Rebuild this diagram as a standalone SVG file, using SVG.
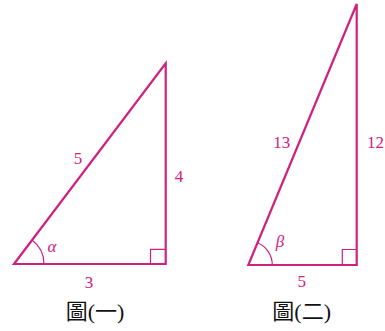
<svg xmlns="http://www.w3.org/2000/svg" width="385" height="331" viewBox="0 0 385 331">
<style>
.ln{fill:none;stroke:#d0207e;stroke-width:2.2;stroke-linejoin:miter}
.thin{fill:none;stroke:#d0207e;stroke-width:1.2}
.lb{font-family:"Liberation Serif","DejaVu Serif",serif;font-size:17px;fill:#d0207e;text-anchor:middle}
.gr{font-family:"Liberation Serif","Noto Sans CJK TC",serif;font-size:22px;fill:#111;text-anchor:middle}
</style>
<rect width="385" height="331" fill="#fff"/>
<g id="triangle1">
<polygon class="ln" points="14,264 165.7,63.3 165.7,264"/>
<polyline class="thin" points="150.5,264 150.5,249.3 165.7,249.3"/>
<path class="thin" d="M44,264 A30,30 0 0 0 32.05,240.04"/>
<text class="lb" font-family="Liberation Serif, serif" x="78" y="164">5</text>
<text class="lb" font-family="Liberation Serif, serif" x="179" y="182">4</text>
<text class="lb" font-family="Liberation Serif, serif" x="89" y="288">3</text>
<text class="lb" font-family="Liberation Serif, serif" x="52" y="252" font-style="italic">α</text>
<text class="gr" x="95" y="319">圖(一)</text>
</g>
<g id="triangle2">
<polygon class="ln" points="248.3,265 356.7,4 356.7,265"/>
<polyline class="thin" points="342.3,265 342.3,249.5 356.7,249.5"/>
<path class="thin" d="M272.3,265 A24,24 0 0 0 257.5,242.8"/>
<text class="lb" font-family="Liberation Serif, serif" x="281.7" y="147.5">13</text>
<text class="lb" font-family="Liberation Serif, serif" x="375.5" y="147.5">12</text>
<text class="lb" font-family="Liberation Serif, serif" x="301.7" y="287">5</text>
<text class="lb" font-family="Liberation Serif, serif" x="280" y="247" font-style="italic">β</text>
<text class="gr" x="301.7" y="319">圖(二)</text>
</g>
<g id="connectors"></g>
</svg>
